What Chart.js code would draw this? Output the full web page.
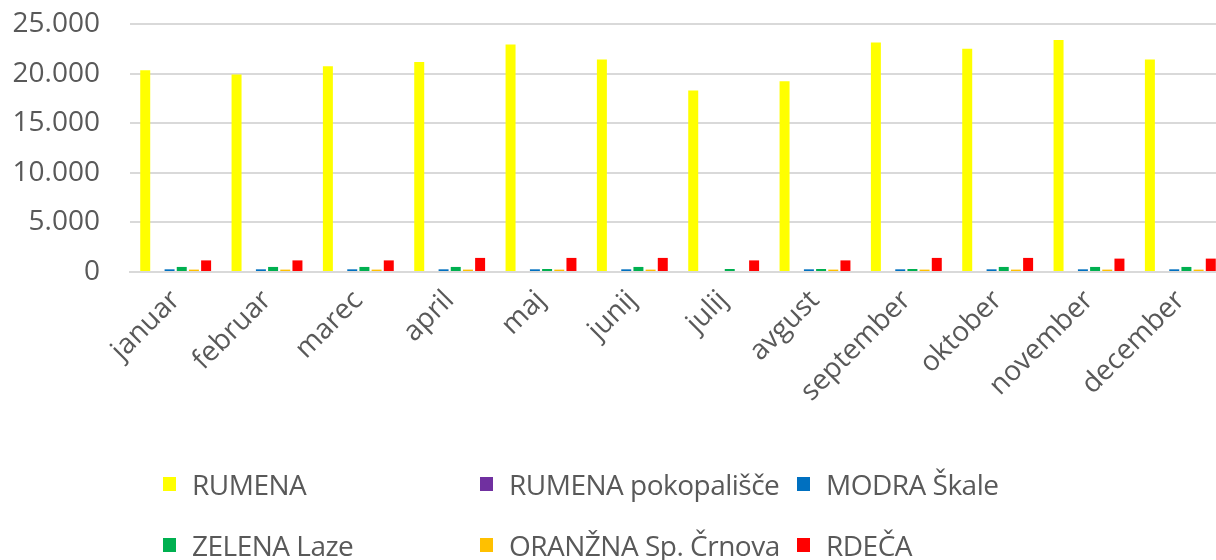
<!DOCTYPE html>
<html>
<head>
<meta charset="utf-8">
<script src="https://cdn.jsdelivr.net/npm/chart.js@4"></script>
<style>
  html, body { margin: 0; padding: 0; background: #fff; overflow: hidden; }
  #wrap { position: relative; width: 1232px; height: 560px; }
  #legend { position: absolute; left: 0; top: 0; width: 1216px; height: 560px; pointer-events: none;
    font-family: "Open Sans", sans-serif; font-size: 28px; color: #595959; }
  .item { position: absolute; display: flex; align-items: center; white-space: nowrap; letter-spacing: -0.5px; }
  .box { width: 13px; height: 14px; margin-right: 16px; }
</style>
</head>
<body>
<div id="wrap">
  <canvas id="chart" width="1232" height="560"></canvas>
  <div id="legend"></div>
</div>
<script>
// months on the x axis
const months = ['januar','februar','marec','april','maj','junij','julij','avgust','september','oktober','november','december'];

// series values
const rumena      = [20330, 19900, 20740, 21180, 22940, 21420, 18300, 19220, 23140, 22500, 23380, 21420];
const pokopalisce = [0, 0, 0, 0, 0, 0, 0, 0, 0, 0, 0, 0];
const modra       = [270, 270, 270, 270, 270, 270, 0, 270, 270, 270, 270, 270];
const zelena      = [510, 510, 510, 510, 300, 510, 300, 300, 300, 510, 510, 510];
const oranzna     = [240, 240, 240, 240, 240, 240, 0, 240, 240, 240, 240, 240];
const rdeca       = [1170, 1170, 1170, 1420, 1420, 1420, 1170, 1170, 1420, 1420, 1350, 1350];

const yTicks = [0, 5000, 10000, 15000, 20000, 25000];

const series = [
  { label: 'RUMENA', data: rumena, color: '#FFFF00' },
  { label: 'RUMENA pokopališče', data: pokopalisce, color: '#7030A0' },
  { label: 'MODRA Škale', data: modra, color: '#0070C0' },
  { label: 'ZELENA Laze', data: zelena, color: '#00B050' },
  { label: 'ORANŽNA Sp. Črnova', data: oranzna, color: '#FFC000' },
  { label: 'RDEČA', data: rdeca, color: '#FF0000' }
];

const textColor = '#595959';
const font = { family: '"Open Sans", sans-serif', size: 28 };

function fmt(v) {
  return String(v).replace(/\B(?=(\d{3})+(?!\d))/g, '.');
}

const ctx = document.getElementById('chart').getContext('2d');
const chart = new Chart(ctx, {
  type: 'bar',
  data: {
    labels: months,
    datasets: series.map(s => ({
      label: s.label,
      data: s.data,
      backgroundColor: s.color,
      borderWidth: 0,
      categoryPercentage: 0.8,
      barPercentage: 0.82
    }))
  },
  options: {
    responsive: false,
    animation: false,
    layout: { padding: { top: 24, right: 6, left: 0, bottom: 0 } },
    plugins: { legend: { display: false }, tooltip: { enabled: false } },
    scales: {
      x: {
        grid: { display: false },
        border: { color: '#d9d9d9', width: 2 },
        ticks: { color: textColor, font: font, minRotation: 45, maxRotation: 45, padding: 4 },
        afterFit: s => { s.height = 288; s.paddingLeft = 0; s.paddingRight = 0; }
      },
      y: {
        min: 0, max: 25000,
        afterBuildTicks: s => { s.ticks = yTicks.map(v => ({ value: v })); },
        grid: { color: '#d9d9d9', lineWidth: 2, drawTicks: false },
        border: { display: false },
        ticks: { color: textColor, font: font, padding: 30, callback: v => fmt(v) },
        afterFit: s => { s.width = 130; s.paddingTop = 0; s.paddingBottom = 0; }
      }
    }
  }
});

// legend in three columns, like the original
const legend = document.getElementById('legend');
const colX = [163, 480, 797];
const rowY = [484, 545];
series.forEach((s, i) => {
  const el = document.createElement('div');
  el.className = 'item';
  el.style.left = colX[i % 3] + 'px';
  el.style.top = (rowY[Math.floor(i / 3)] - 20) + 'px';
  el.style.height = '40px';
  el.innerHTML = `<span class="box" style="background:${s.color}"></span><span>${s.label}</span>`;
  legend.appendChild(el);
});
</script>
</body>
</html>
